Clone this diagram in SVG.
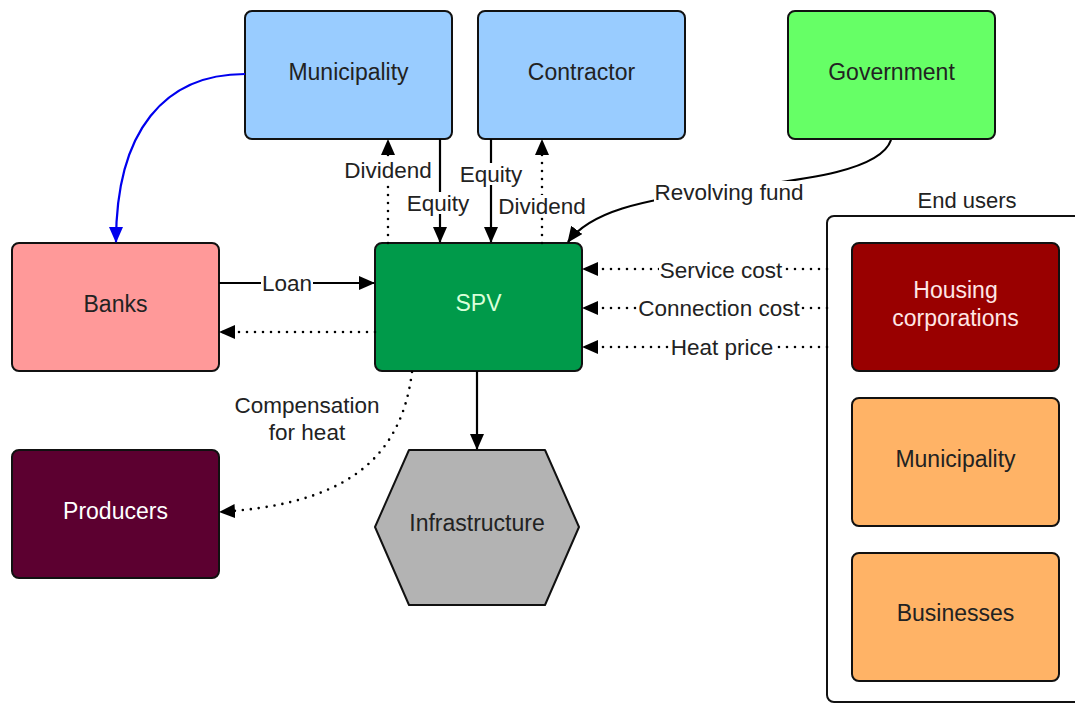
<svg xmlns="http://www.w3.org/2000/svg" width="1075" height="704" viewBox="0 0 1075 704">
  <defs>
    <marker id="arr" markerWidth="16" markerHeight="14" refX="15" refY="7" orient="auto" markerUnits="userSpaceOnUse">
      <path d="M0,0 L16,7 L0,14 Z" fill="#000"/>
    </marker>
    <marker id="arrBlue" markerWidth="16" markerHeight="14" refX="15" refY="7" orient="auto" markerUnits="userSpaceOnUse">
      <path d="M0,0 L16,7 L0,14 Z" fill="#0000ee"/>
    </marker>
    <style>
      .box { stroke: #111; stroke-width: 2; }
      .lbl { font-family: "Liberation Sans", Arial, sans-serif; font-size: 23px; text-anchor: middle; dominant-baseline: central; fill: #222; }
      .elbl { font-family: "Liberation Sans", Arial, sans-serif; font-size: 22.5px; text-anchor: middle; dominant-baseline: central; fill: #222; }
      .bg { fill: #fff; }
      .solid { fill: none; stroke: #000; stroke-width: 2.2; marker-end: url(#arr); }
      .dot { fill: none; stroke: #000; stroke-width: 2.6; stroke-linecap: round; stroke-dasharray: 0 8; marker-end: url(#arr); }
    </style>
  </defs>
  <rect width="1075" height="704" fill="#fff"/>

  <!-- End users container -->
  <g id="end-users">
    <rect x="827" y="216" width="270" height="486" rx="7" fill="#fff" stroke="#111" stroke-width="2"/>
    <text class="lbl" x="967" y="200" style="font-size:22px">End users</text>
  </g>

  <g id="municipality">
    <rect class="box" x="245" y="11" width="207" height="128" rx="7" fill="#99ccff"/>
    <text class="lbl" x="348.5" y="72">Municipality</text>
  </g>
  <g id="contractor">
    <rect class="box" x="478" y="11" width="207" height="128" rx="7" fill="#99ccff"/>
    <text class="lbl" x="581.5" y="72">Contractor</text>
  </g>
  <g id="government">
    <rect class="box" x="788" y="11" width="207" height="128" rx="7" fill="#66ff66"/>
    <text class="lbl" x="891.5" y="72">Government</text>
  </g>
  <g id="banks">
    <rect class="box" x="12" y="243" width="207" height="128" rx="7" fill="#ff9999"/>
    <text class="lbl" x="115.5" y="304">Banks</text>
  </g>
  <g id="spv">
    <rect class="box" x="375" y="243" width="207" height="128" rx="7" fill="#009a4a"/>
    <text class="lbl" x="478.5" y="303" style="fill:#d9ffd9">SPV</text>
  </g>
  <g id="producers">
    <rect class="box" x="12" y="450" width="207" height="128" rx="7" fill="#5c0030"/>
    <text class="lbl" x="115.5" y="511" style="fill:#ffffff">Producers</text>
  </g>
  <g id="infrastructure">
    <polygon class="box" points="409,450 545,450 579,527 545,605 409,605 375,527" fill="#b3b3b3" stroke-linejoin="round"/>
    <text class="lbl" x="477" y="523">Infrastructure</text>
  </g>
  <g id="housing-corporations">
    <rect class="box" x="852" y="243" width="207" height="128" rx="7" fill="#990000"/>
    <text class="lbl" x="955.5" y="290" style="fill:#ffe6e6">Housing</text>
    <text class="lbl" x="955.5" y="318" style="fill:#ffe6e6">corporations</text>
  </g>
  <g id="municipality-user">
    <rect class="box" x="852" y="398" width="207" height="128" rx="7" fill="#ffb366"/>
    <text class="lbl" x="955.5" y="459">Municipality</text>
  </g>
  <g id="businesses">
    <rect class="box" x="852" y="553" width="207" height="128" rx="7" fill="#ffb366"/>
    <text class="lbl" x="955.5" y="613">Businesses</text>
  </g>

  <g id="connectors">
    <!-- Municipality to Banks -->
    <path d="M245,74 C165,74 116,130 116,242" fill="none" stroke="#0000ee" stroke-width="2.2" marker-end="url(#arrBlue)"/>
    <!-- Equity / Dividend lines -->
    <path class="dot" d="M388,243 L388,140"/>
    <path class="solid" d="M440,139 L440,242"/>
    <path class="solid" d="M491,139 L491,242"/>
    <path class="dot" d="M542,243 L542,140"/>
    <!-- Revolving fund -->
    <path class="solid" d="M891,140 C880,172 800,180 720,190 C640,200 590,212 568,242"/>
    <!-- Loan / repayment -->
    <path class="solid" d="M219,283 L374,283"/>
    <path class="dot" d="M375,332 L220,332"/>
    <!-- End users to SPV -->
    <path class="dot" d="M827,269 L583,269"/>
    <path class="dot" d="M827,308 L583,308"/>
    <path class="dot" d="M827,347 L583,347"/>
    <!-- Compensation for heat -->
    <path class="dot" d="M412,372 C400,470 330,505 220,512"/>
    <!-- SPV to Infrastructure -->
    <path class="solid" d="M477,371 L477,449"/>

    <!-- label backgrounds -->
    <rect class="bg" x="343" y="159" width="90" height="22"/>
    <rect class="bg" x="406" y="192" width="65" height="22"/>
    <rect class="bg" x="459" y="163" width="65" height="22"/>
    <rect class="bg" x="497" y="195" width="90" height="22"/>
    <rect class="bg" x="654" y="181" width="150" height="22"/>
    <rect class="bg" x="261" y="272" width="52" height="22"/>
    <rect class="bg" x="659" y="259" width="125" height="22"/>
    <rect class="bg" x="638" y="297" width="163" height="22"/>
    <rect class="bg" x="670" y="336" width="104" height="22"/>

    <text class="elbl" x="388" y="170">Dividend</text>
    <text class="elbl" x="438" y="203">Equity</text>
    <text class="elbl" x="491" y="174">Equity</text>
    <text class="elbl" x="542" y="206">Dividend</text>
    <text class="elbl" x="729" y="192">Revolving fund</text>
    <text class="elbl" x="287" y="283">Loan</text>
    <text class="elbl" x="721" y="270">Service cost</text>
    <text class="elbl" x="719" y="308">Connection cost</text>
    <text class="elbl" x="722" y="347">Heat price</text>
    <text class="elbl" x="307" y="405">Compensation</text>
    <text class="elbl" x="307" y="432">for heat</text>
  </g>
</svg>
